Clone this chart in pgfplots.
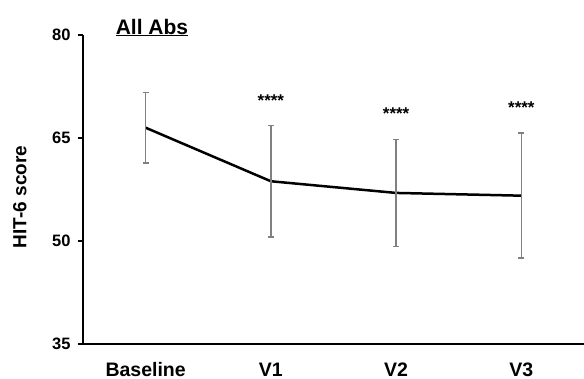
\documentclass[border=0pt]{standalone}
\usepackage{fontspec}
\setmainfont{Liberation Sans}
\usepackage{pgfplots}
\pgfplotsset{compat=1.18}
\begin{document}
\begin{tikzpicture}
\path[use as bounding box] (-83bp,-35bp) rectangle (501bp,344bp);
\begin{axis}[
  at={(0,0)}, anchor=south west,
  width=501bp, height=309bp, scale only axis,
  xmin=-0.5, xmax=3.5, ymin=35, ymax=80,
  axis x line=bottom, axis y line=left,
  axis line style={-, line width=1.8bp, black},
  xtick={0,1,2,3}, xticklabels={Baseline,V1,V2,V3},
  ytick={35,50,65,80},
  x tick style={draw=none},
  y tick style={line width=1.5bp, black},
  major tick length=5bp,
  tick align=outside,
  /pgf/number format/assume math mode=true,
  yticklabel style={font=\fontsize{16.5bp}{18bp}\selectfont\bfseries, xshift=-4bp},
  xticklabel style={font=\fontsize{19.5bp}{21bp}\selectfont\bfseries, anchor=base, yshift=-27bp},
  ylabel={HIT-6 score},
  every axis y label/.style={at={(axis description cs:-0.126,0.476)}, rotate=90, anchor=center, font=\fontsize{19bp}{21bp}\selectfont\bfseries},
  title={\underline{All Abs}},
  every axis title/.style={at={(axis description cs:0.1377,1.003)}, anchor=base, font=\fontsize{21bp}{23bp}\selectfont\bfseries},
  clip=false,
]
\addplot[black, line width=2.5bp, mark=none,
  error bars/.cd, y dir=both, y explicit,
  error bar style={line width=1.5bp, color=gray},
  error mark options={rotate=90, mark size=3bp, line width=1.5bp, color=gray}]
  table[x=x, y=y, y error=e] {
x y e
0 66.5 5.15
1 58.7 8.1
2 57.0 7.8
3 56.6 9.1
};
\node[font=\fontsize{17bp}{17bp}\selectfont\bfseries, anchor=base] at (axis cs:1,69.6) {****};
\node[font=\fontsize{17bp}{17bp}\selectfont\bfseries, anchor=base] at (axis cs:2,67.7) {****};
\node[font=\fontsize{17bp}{17bp}\selectfont\bfseries, anchor=base] at (axis cs:3,68.55) {****};
\end{axis}
\end{tikzpicture}
\end{document}
